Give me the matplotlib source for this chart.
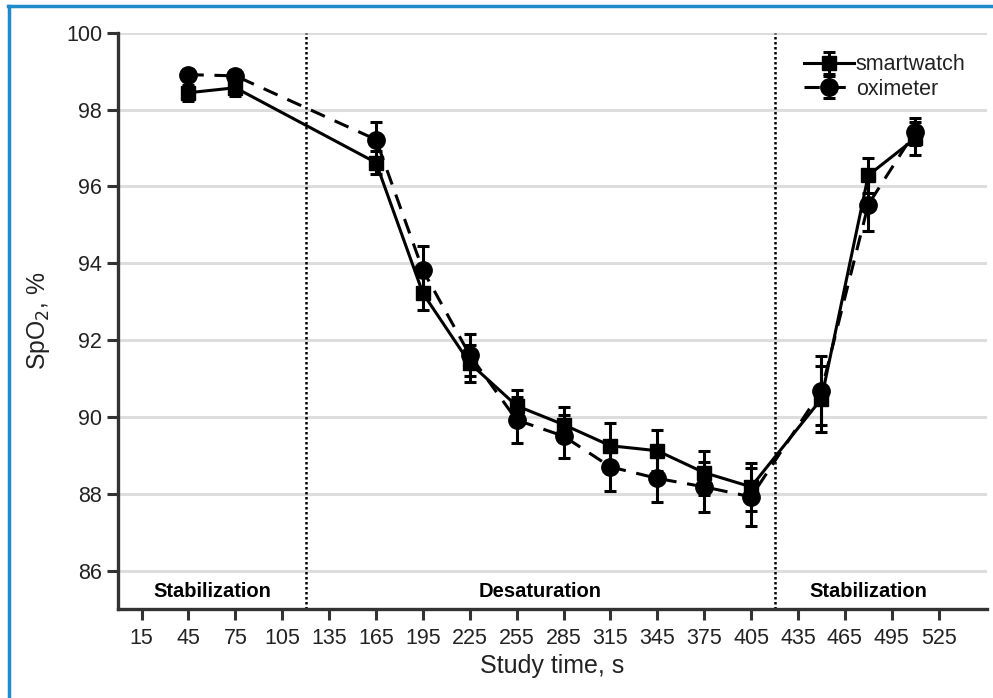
import matplotlib.pyplot as plt
from matplotlib.lines import Line2D

plt.rcParams['font.family'] = ['Liberation Sans', 'DejaVu Sans']

# data
t_sw = [45, 75, 165, 195, 225, 255, 285, 315, 345, 375, 405, 450, 480, 510]
sw = [98.44, 98.57, 96.62, 93.22, 91.40, 90.29, 89.80, 89.25, 89.12, 88.55, 88.18, 90.47, 96.29, 97.25]
sw_err = [0.21, 0.21, 0.30, 0.44, 0.48, 0.40, 0.45, 0.59, 0.54, 0.57, 0.62, 0.86, 0.46, 0.42]

t_ox = [45, 75, 165, 195, 225, 255, 285, 315, 345, 375, 405, 450, 480, 510]
ox = [98.91, 98.88, 97.22, 93.82, 91.61, 89.92, 89.50, 88.70, 88.40, 88.18, 87.92, 90.68, 95.53, 97.43]
ox_err = [0.15, 0.15, 0.47, 0.62, 0.55, 0.60, 0.56, 0.62, 0.62, 0.65, 0.75, 0.90, 0.70, 0.34]

xticks = list(range(15, 526, 30))
yticks = list(range(86, 101, 2))
phase_bounds = [120, 420]
phases = [(60, 'Stabilization'), (270, 'Desaturation'), (480, 'Stabilization')]

fig = plt.figure(figsize=(9.93, 6.98), dpi=100)
ax = fig.add_axes([0.119, 0.1275, 0.875, 0.8255])

for y in yticks:
    ax.axhline(y, color='#dddddd', lw=2.2, zorder=0)

ax.errorbar(t_sw, sw, yerr=sw_err, color='black', lw=2.2, ls='-', marker='s',
            ms=10, capsize=4, capthick=2.2, elinewidth=2.2, label='smartwatch', zorder=3)
ax.errorbar(t_ox, ox, yerr=ox_err, color='black', lw=2.2, ls=(0, (5, 3.5)), marker='o',
            ms=12.5, capsize=4, capthick=2.2, elinewidth=2.2, label='oximeter', zorder=3)

for b in phase_bounds:
    ax.axvline(b, color='black', lw=1.8, ls=(0, (1, 1)), zorder=1)
for x, name in phases:
    ax.text(x, 85.45, name, ha='center', va='center', fontsize=14.5, fontweight='bold')

ax.set_xlim(0, 556)
ax.set_ylim(85, 100)
ax.set_xticks(xticks)
ax.set_yticks(yticks)
ax.tick_params(labelsize=15.5, length=8, width=2.2, color='#333333', direction='out',
               labelcolor='#222222')
ax.tick_params(axis='x', pad=6)
for s in ['top', 'right']:
    ax.spines[s].set_visible(False)
for s in ['left', 'bottom']:
    ax.spines[s].set_linewidth(2.4)
    ax.spines[s].set_color('#333333')
ax.spines['left'].set_bounds(85, 100)

ax.set_xlabel('Study time, s', fontsize=18, labelpad=3, color='#222222')
ax.set_ylabel('SpO$_2$, %', fontsize=17.8, labelpad=10, color='#222222')

leg = ax.legend(loc='upper right', frameon=False, fontsize=15.5, handlelength=2.3,
                handletextpad=0.1, borderaxespad=0.2, labelspacing=0.15,
                bbox_to_anchor=(0.99, 0.985))
for txt in leg.get_texts():
    txt.set_color('#222222')

# blue border around the figure
fig.add_artist(Line2D([8 / 993, 1], [1 - 6 / 698, 1 - 6 / 698], color='#1f8bc8', lw=2.5))
fig.add_artist(Line2D([9 / 993, 9 / 993], [0, 1 - 6 / 698], color='#1f8bc8', lw=2.5))

fig.savefig('out.png', dpi=100)
